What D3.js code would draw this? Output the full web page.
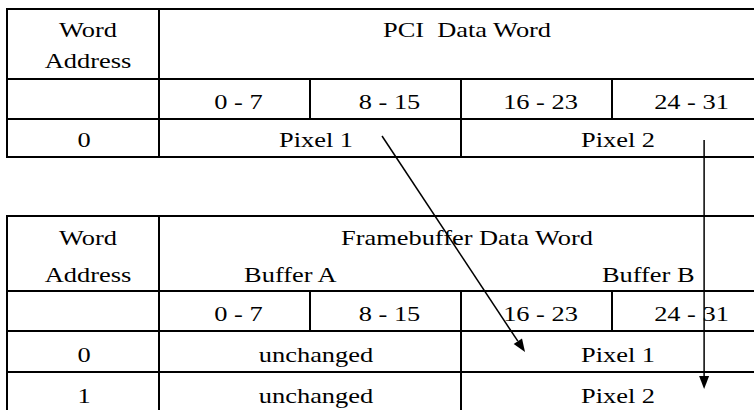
<!DOCTYPE html>
<html><head><meta charset="utf-8">
<script src="https://cdn.jsdelivr.net/npm/d3@7"></script>
<style>html,body{margin:0;padding:0;background:#fff;}svg{display:block;}text{white-space:pre;}</style>
</head><body>
<svg id="c" width="754" height="410"></svg>
<script>
const bitRanges = ["0 - 7", "8 - 15", "16 - 23", "24 - 31"];
const addrHeader = ["Word", "Address"];
const pciTitle = "PCI  Data Word";
const pciAddresses = ["0"];
const pciCells = [["Pixel 1", "Pixel 2"]];
const fbTitle = "Framebuffer Data Word";
const fbBuffers = ["Buffer A", "Buffer B"];
const fbAddresses = ["0", "1"];
const fbCells = [["unchanged", "Pixel 1"], ["unchanged", "Pixel 2"]];
// arrows in column units (x) and pixel rows (y)
const arrows = [
  {x1: 1.477, y1: 136, x2: 2.424, y2: 352},
  {x1: 3.61, y1: 140, x2: 3.61, y2: 389}
];

const svg = d3.select("#c");
const FS = 22, SX = 1.2;
const col = d3.scaleLinear().domain([0, 4]).range([159, 763]);
const addrX0 = 7, addrX1 = 159, rightX = 763;
const font = "'Liberation Serif', 'Times New Roman', serif";

function txt(g, s, x, y) {
  g.append("text").attr("transform", `translate(${x},${y}) scale(${SX},1)`)
    .attr("text-anchor", "middle").attr("font-family", font).attr("font-size", FS)
    .attr("xml:space", "preserve")
    .attr("fill", "#000").text(s);
}
function hline(g, y, xa, xb) {
  g.append("line").attr("x1", xa).attr("x2", xb).attr("y1", y).attr("y2", y)
    .attr("stroke", "#000").attr("stroke-width", 2);
}
function vline(g, x, ya, yb) {
  g.append("line").attr("x1", x).attr("x2", x).attr("y1", ya).attr("y2", yb)
    .attr("stroke", "#000").attr("stroke-width", 2);
}

function drawTable(cfg) {
  const g = svg.append("g");
  const ys = cfg.rowsY;
  const bottom = ys[ys.length - 1];
  ys.forEach(y => hline(g, y, addrX0 - 1, rightX));
  vline(g, addrX0, ys[0] - 1, bottom + 1);
  vline(g, addrX1, ys[0] - 1, bottom + 1);
  [1, 2, 3].forEach(i => vline(g, col(i), ys[1], ys[2]));
  vline(g, col(2), ys[2], bottom + 1);
  const ac = (addrX0 + addrX1) / 2 + 5;
  txt(g, addrHeader[0], ac, cfg.hdrY[0]);
  txt(g, addrHeader[1], ac, cfg.hdrY[1]);
  txt(g, cfg.title, col(2) + 6, cfg.hdrY[0]);
  if (cfg.buffers) {
    txt(g, cfg.buffers[0], col(0.87), cfg.hdrY[1]);
    txt(g, cfg.buffers[1], col(3.24), cfg.hdrY[1]);
  }
  bitRanges.forEach((b, i) => txt(g, b, col(i + 0.5) + 4, ys[2] - 10));
  cfg.addresses.forEach((a, r) => {
    const yb = ys[3 + r] - 10;
    txt(g, a, ac - 4, yb);
    cfg.cells[r].forEach((c, k) => txt(g, c, col(k * 2 + 1) + 6, yb));
  });
}

drawTable({rowsY: [9, 79, 119, 157], hdrY: [37, 68], title: pciTitle,
  addresses: pciAddresses, cells: pciCells});
drawTable({rowsY: [216, 291, 331, 372, 413], hdrY: [245, 282], title: fbTitle,
  buffers: fbBuffers, addresses: fbAddresses, cells: fbCells});

const ag = svg.append("g");
arrows.forEach(a => {
  const X1 = col(a.x1), X2 = col(a.x2);
  const ang = Math.atan2(a.y2 - a.y1, X2 - X1);
  const L = 13, W = 5;
  const bx = X2 - L * Math.cos(ang), by = a.y2 - L * Math.sin(ang);
  ag.append("line").attr("x1", X1).attr("y1", a.y1).attr("x2", bx).attr("y2", by)
    .attr("stroke", "#000").attr("stroke-width", 1.5);
  const px = -Math.sin(ang) * W, py = Math.cos(ang) * W;
  ag.append("path").attr("d", `M${X2},${a.y2}L${bx + px},${by + py}L${bx - px},${by - py}Z`)
    .attr("fill", "#000");
});
</script>
</body></html>
